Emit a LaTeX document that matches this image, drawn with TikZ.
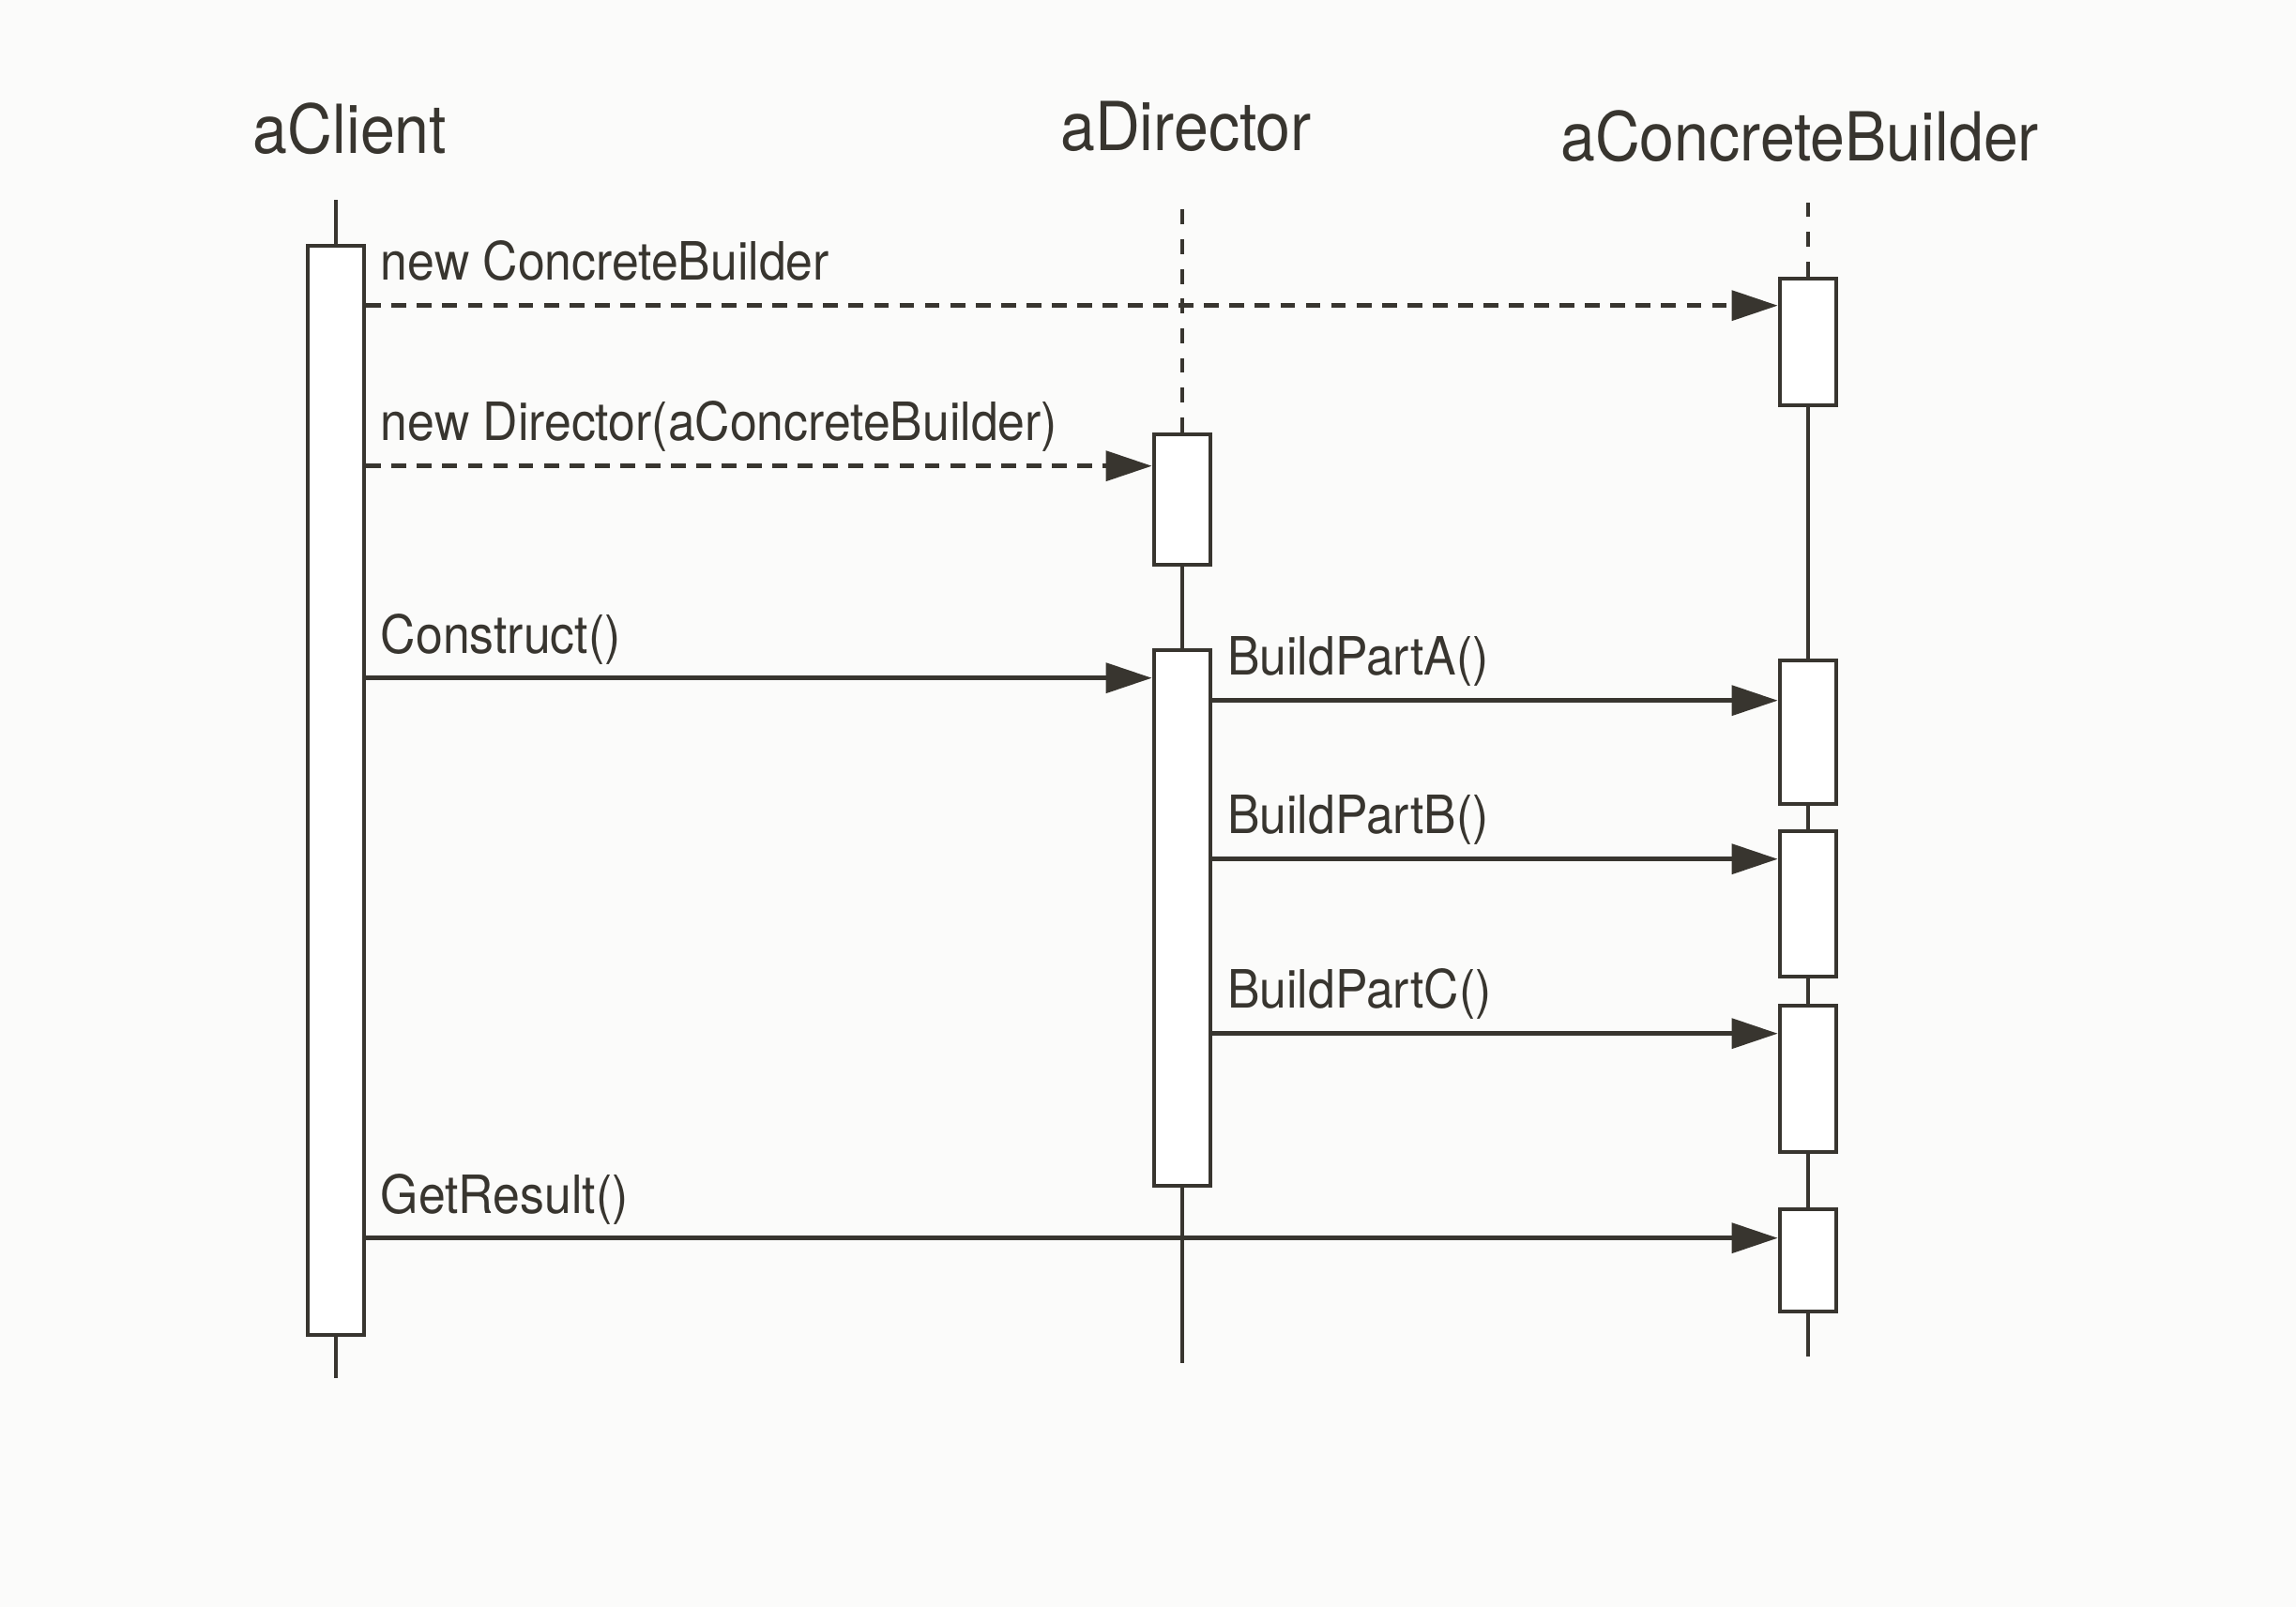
\documentclass[tikz,border=0pt]{standalone}
\usepackage{fontspec}
\setmainfont[FakeStretch=0.92]{TeX Gyre Heros}
\usetikzlibrary{arrows.meta}
\definecolor{ink}{HTML}{38352F}
\definecolor{paper}{HTML}{FBFBFA}

\begin{document}
\begin{tikzpicture}[>={Triangle[length=14pt,width=9pt]}, color=ink,
    act/.style={draw=ink, fill=white, line width=1.3pt, minimum width=0.6cm, inner sep=0pt},
    obj/.style={font=\fontsize{20.5}{24}\selectfont, anchor=base, inner sep=0pt},
    msg/.style={font=\fontsize{16}{19}\selectfont, anchor=base west, inner sep=0pt},
    call/.style={->, line width=1.4pt},
    ret/.style={call, dash pattern=on 4.5pt off 3.2pt},
    life/.style={line width=1.1pt},
    lifedash/.style={life, dash pattern=on 4.5pt off 4.5pt}]

        % Paper
        \fill[paper] (0,0) rectangle (24.47,-17.13);
        \useasboundingbox (0,0) rectangle (24.47,-17.13);

        % Objects
        \node[obj] (client) at (3.73,-1.64) {aClient};
        \node[obj] (director) at (12.64,-1.61) {aDirector};
        \node[obj] (builder) at (19.18,-1.72) {aConcreteBuilder};

        % Activation boxes
        \node[act, minimum height=11.61cm] (cliAct) at (3.58,-8.425) {};
        \node[act, minimum height=1.39cm] (dirNew) at (12.60,-5.325) {};
        \node[act, minimum height=5.71cm] (dirRun) at (12.60,-9.785) {};
        \node[act, minimum height=1.35cm] (bldNew) at (19.27,-3.645) {};
        \node[act, minimum height=1.53cm] (bldA) at (19.27,-7.805) {};
        \node[act, minimum height=1.55cm] (bldB) at (19.27,-9.635) {};
        \node[act, minimum height=1.56cm] (bldC) at (19.27,-11.50) {};
        \node[act, minimum height=1.09cm] (bldRes) at (19.27,-13.435) {};

        % Lifelines
        \draw[life] (cliAct.north) -- ++(0,0.47);
        \draw[life] (cliAct.south) -- ++(0,-0.44);
        \draw[lifedash] (dirNew.north) -- ++(0,2.52);
        \draw[life] (dirNew.south) -- (dirRun.north);
        \draw[life] (dirRun.south) -- ++(0,-1.87);
        \draw[lifedash] (bldNew.north) -- ++(0,0.89);
        \foreach \a/\b in {bldNew/bldA, bldA/bldB, bldB/bldC, bldC/bldRes}
            \draw[life] (\a.south) -- (\b.north);
        \draw[life] (bldRes.south) -- ++(0,-0.46);

        % Message tips
        \coordinate (t1) at ([yshift=-0.31cm]bldNew.north west);
        \coordinate (t2) at ([yshift=-0.36cm]dirNew.north west);
        \coordinate (t3) at ([yshift=-0.32cm]dirRun.north west);
        \coordinate (tA) at ([yshift=-0.45cm]bldA.north west);
        \coordinate (tB) at ([yshift=-0.32cm]bldB.north west);
        \coordinate (tC) at ([yshift=-0.32cm]bldC.north west);
        \coordinate (tR) at ([yshift=-0.33cm]bldRes.north west);

        % Messages from aClient
        \draw[ret] (cliAct.east |- t1) -- (t1);
        \node[msg] (m1) at ([xshift=0.15cm, yshift=0.27cm]cliAct.east |- t1) {new ConcreteBuilder};
        \draw[ret] (cliAct.east |- t2) -- (t2);
        \node[msg] (m2) at ([xshift=0.15cm, yshift=0.27cm]cliAct.east |- t2) {new Director(aConcreteBuilder)};
        \draw[call] (cliAct.east |- t3) -- (t3);
        \node[msg] (m3) at ([xshift=0.15cm, yshift=0.26cm]cliAct.east |- t3) {Construct()};
        \draw[call] (cliAct.east |- tR) -- (tR);
        \node[msg] (mR) at ([xshift=0.15cm, yshift=0.26cm]cliAct.east |- tR) {GetResult()};

        % Messages from aDirector
        \foreach \t/\p in {A/A, B/B, C/C} {
            \draw[call] (dirRun.east |- t\t) -- (t\t);
            \node[msg] (m\t) at ([xshift=0.15cm, yshift=0.27cm]dirRun.east |- t\t) {BuildPart\p()};
        }
\end{tikzpicture}
\end{document}
